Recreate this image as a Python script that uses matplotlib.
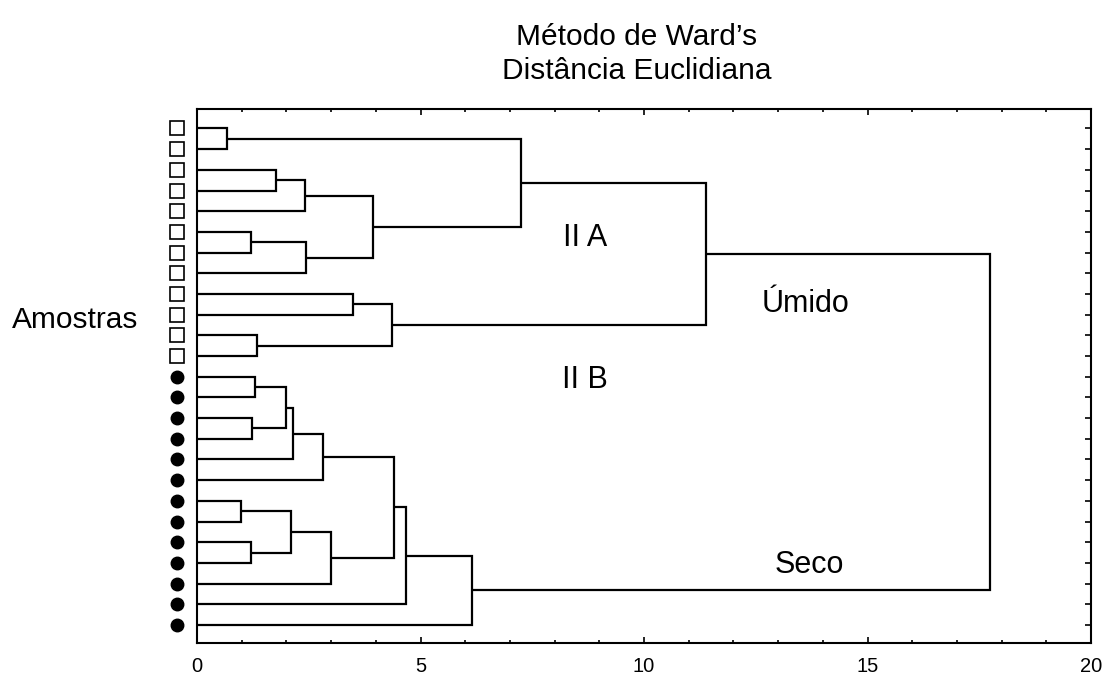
import matplotlib
matplotlib.use("Agg")
import matplotlib.pyplot as plt
from matplotlib.ticker import MultipleLocator, FixedLocator

plt.rcParams['font.family'] = ['Liberation Sans', 'DejaVu Sans']

# ---- data ----
leaf_groups = ['Úmido'] * 12 + ['Seco'] * 13          # 25 samples, top to bottom
group_markers = {'Úmido': 's', 'Seco': 'o'}

# linkage: node ids 0..24 are leaves, 25.. are merges (in order)
left_child  = [0, 2, 26, 5, 28, 27, 25, 8, 10, 32, 31,
               12, 14, 36, 38, 39, 18, 20, 41, 43, 40, 45, 46, 35]
right_child = [1, 3, 4, 6, 7, 29, 30, 9, 11, 33, 34,
               13, 15, 37, 16, 17, 19, 21, 42, 22, 44, 23, 24, 47]
merge_height = [0.68, 1.76, 2.42, 1.20, 2.44, 3.94, 7.25, 3.48, 1.35, 4.36, 11.39,
                1.30, 1.22, 1.98, 2.14, 2.81, 0.98, 1.20, 2.10, 2.99, 4.41, 4.68, 6.16, 17.74]

cluster_labels = ['II A', 'Úmido', 'II B', 'Seco']
label_x = [8.68, 13.62, 8.68, 13.69]
label_y = [5.68, 8.86, 12.56, 21.47]

title_lines = ['Método de Ward’s', 'Distância Euclidiana']
y_axis_label = 'Amostras'
x_ticks = [0, 5, 10, 15, 20]

# ---- figure ----
W, H = 1103, 674
fig = plt.figure(figsize=(W / 100, H / 100), dpi=100)
ax = fig.add_axes([197 / W, 1 - 643.3 / H, (1091 - 197) / W, (643.3 - 109) / H])

n_leaves = len(leaf_groups)
pos = {i: float(i) for i in range(n_leaves)}
hgt = {i: 0.0 for i in range(n_leaves)}

lw = 1.6
for k, (a, b, h) in enumerate(zip(left_child, right_child, merge_height)):
    node = n_leaves + k
    ax.plot([hgt[a], h, h, hgt[b]], [pos[a], pos[a], pos[b], pos[b]],
            color='black', lw=lw, solid_joinstyle='miter', solid_capstyle='butt')
    pos[node] = (pos[a] + pos[b]) / 2
    hgt[node] = h

# leaf markers
for i, g in enumerate(leaf_groups):
    m = group_markers[g]
    if m == 's':
        ax.plot(-0.454, i, marker='s', ms=9.5, mfc='white', mec='black', mew=1.2,
                clip_on=False, zorder=5)
    else:
        ax.plot(-0.454, i, marker='o', ms=9, mfc='black', mec='black',
                clip_on=False, zorder=5)

for t, x, y in zip(cluster_labels, label_x, label_y):
    ax.text(x, y, t, fontsize=22, ha='center', va='baseline')

ax.set_xlim(0, 20)
ax.set_ylim(24.885, -0.94)

for s in ax.spines.values():
    s.set_linewidth(1.5)

ax.xaxis.set_major_locator(FixedLocator(x_ticks))
ax.xaxis.set_minor_locator(MultipleLocator(1))
ax.tick_params(axis='x', which='both', direction='in', top=True, bottom=True,
               labelsize=14.5, pad=10)
ax.tick_params(axis='x', which='major', length=4, width=1.2)
ax.tick_params(axis='x', which='minor', length=2.5, width=1.2)

ax.yaxis.set_major_locator(FixedLocator(list(range(n_leaves))))
ax.tick_params(axis='y', which='both', direction='in', left=False, right=True,
               labelleft=False, length=4, width=1.2)

fig.text(637 / W, 1 - 45 / H, title_lines[0], fontsize=21.5, ha='center', va='baseline')
fig.text(637 / W, 1 - 79 / H, title_lines[1], fontsize=21.5, ha='center', va='baseline')
fig.text(11.7 / W, 1 - 328.3 / H, y_axis_label, fontsize=21.5, ha='left', va='baseline')

fig.savefig('out.png', dpi=100)
